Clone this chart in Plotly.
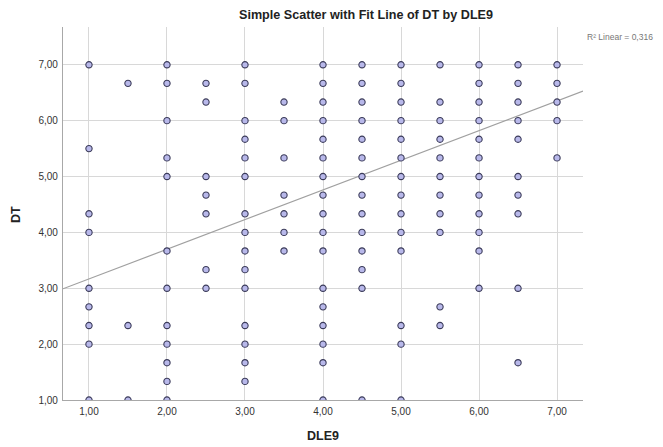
import plotly.graph_objects as go

# ---- data ----
dle9_columns = [1.0, 1.5, 2.0, 2.5, 3.0, 3.5, 4.0, 4.5, 5.0, 5.5, 6.0, 6.5, 7.0]
dt_by_column = [
    [7.0, 5.5, 4.333, 4.0, 3.0, 2.667, 2.333, 2.0, 1.0],
    [6.667, 2.333, 1.0],
    [7.0, 6.667, 6.0, 5.333, 5.0, 3.667, 3.0, 2.333, 2.0, 1.667, 1.333, 1.0],
    [6.667, 6.333, 5.0, 4.667, 4.333, 3.333, 3.0],
    [7.0, 6.667, 6.0, 5.667, 5.333, 5.0, 4.333, 4.0, 3.667, 3.333, 3.0, 2.333, 2.0, 1.667, 1.333],
    [6.333, 6.0, 5.333, 4.667, 4.333, 4.0, 3.667],
    [7.0, 6.667, 6.333, 6.0, 5.667, 5.333, 5.0, 4.667, 4.333, 4.0, 3.667, 3.0, 2.667, 2.333, 2.0, 1.667, 1.0],
    [7.0, 6.667, 6.333, 6.0, 5.667, 5.333, 5.0, 4.667, 4.333, 4.0, 3.667, 3.333, 3.0, 1.0],
    [7.0, 6.667, 6.333, 6.0, 5.667, 5.333, 5.0, 4.667, 4.333, 4.0, 3.667, 2.333, 2.0, 1.0],
    [7.0, 6.333, 6.0, 5.667, 5.333, 5.0, 4.667, 4.333, 4.0, 2.667, 2.333],
    [7.0, 6.667, 6.333, 6.0, 5.667, 5.333, 5.0, 4.667, 4.333, 4.0, 3.667, 3.0],
    [7.0, 6.667, 6.333, 6.0, 5.667, 5.0, 4.667, 4.333, 3.0, 1.667],
    [7.0, 6.667, 6.333, 6.0, 5.333],
]
fit_intercept = 2.636
fit_slope = 0.531
r2_text = "R² Linear = 0,316"
tick_values = [1, 2, 3, 4, 5, 6, 7]
tick_labels = ["1,00", "2,00", "3,00", "4,00", "5,00", "6,00", "7,00"]

x_range = [0.667, 7.333]
y_range = [1.0, 7.676]

dle9 = [x for x, col in zip(dle9_columns, dt_by_column) for _ in col]
dt = [y for col in dt_by_column for y in col]

fit_x = x_range
fit_y = [fit_intercept + fit_slope * v for v in fit_x]

fig = go.Figure()
fig.add_trace(go.Scatter(
    x=fit_x, y=fit_y, mode="lines",
    line=dict(color="#a0a0a0", width=1.2),
    hoverinfo="skip", showlegend=False, cliponaxis=True,
))
fig.add_trace(go.Scatter(
    x=dle9, y=dt, mode="markers",
    marker=dict(size=6.3, color="#b8b8ea", line=dict(color="#3a3a58", width=1.1)),
    showlegend=False, cliponaxis=True,
))

font_family = "Liberation Sans, Arial, sans-serif"
axis_common = dict(
    showgrid=True, gridcolor="#d8d8d8", gridwidth=1.3,
    zeroline=False, showline=True, linecolor="#a8a8a8", linewidth=1.3,
    ticks="outside", ticklen=2, tickcolor="rgba(0,0,0,0)",
    tickfont=dict(family=font_family, size=10, color="#333333"),
    tickvals=tick_values, ticktext=tick_labels,
    automargin=False,
)

# The page puts the figure 8px in from the top-left corner of the window.
fig_w, fig_h = 655, 439

fig.update_layout(
    width=fig_w, height=fig_h,
    margin=dict(l=55, r=80, t=19, b=47),
    paper_bgcolor="white", plot_bgcolor="white",
    font=dict(family=font_family),
    title=dict(
        text="<b>Simple Scatter with Fit Line of DT by DLE9</b>",
        x=358 / fig_w, xanchor="center", xref="container",
        y=1 - 7 / fig_h, yanchor="middle", yref="container",
        font=dict(family=font_family, size=12.6, color="#222222"),
    ),
    xaxis=dict(range=x_range, **axis_common),
    yaxis=dict(range=y_range, **axis_common),
    annotations=[
        dict(
            text=r2_text, xref="paper", yref="paper",
            x=(585 - 63) / 520, y=(400 - 37) / 373,
            xanchor="left", yanchor="middle", showarrow=False,
            font=dict(family=font_family, size=8.5, color="#777777"),
        ),
        dict(
            text="<b>DLE9</b>", xref="paper", yref="paper",
            x=0.5, y=-(436 - 400) / 373, xanchor="center", yanchor="middle",
            showarrow=False,
            font=dict(family=font_family, size=12.5, color="#222222"),
        ),
        dict(
            text="<b>DT</b>", xref="paper", yref="paper",
            x=-(63 - 16) / 520, y=(400 - 215) / 373, xanchor="center", yanchor="middle",
            textangle=-90, showarrow=False,
            font=dict(family=font_family, size=12.5, color="#222222"),
        ),
    ],
)

fig.write_html("out.html")
